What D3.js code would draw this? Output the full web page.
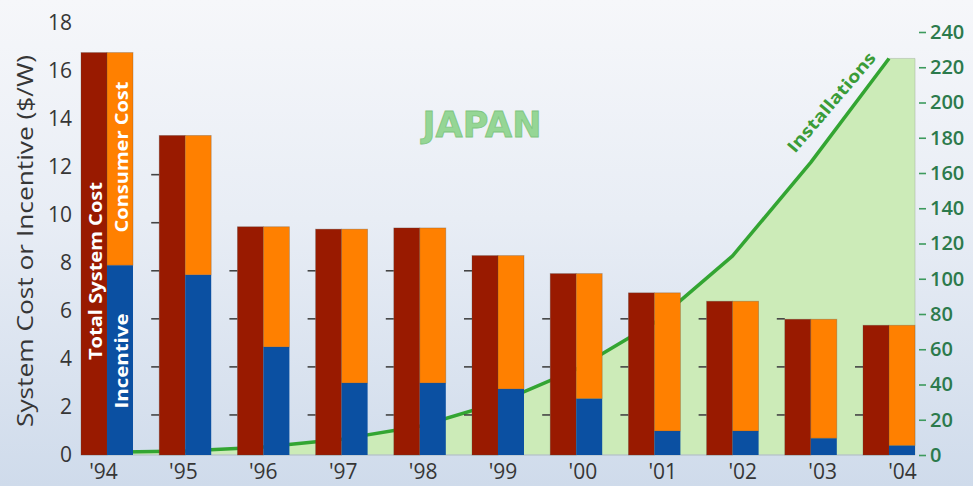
<!DOCTYPE html>
<html>
<head>
<meta charset="utf-8">
<script src="https://cdn.jsdelivr.net/npm/d3@7"></script>
<style>
  html, body { margin: 0; padding: 0; background: #fff; }
  body { width: 973px; height: 486px; overflow: hidden; }
  svg { display: block; }
</style>
</head>
<body>
<svg id="chart" width="973" height="486"></svg>
<script>
// Japan PV: system cost vs. incentive ($/W) and yearly installations (MW)
const years = ["'94", "'95", "'96", "'97", "'98", "'99", "'00", "'01", "'02", "'03", "'04"];
const totalCost    = [16.75, 13.3, 9.5, 9.4, 9.45, 8.3, 7.55, 6.75, 6.4, 5.65, 5.4];
const incentive    = [7.9, 7.5, 4.5, 3.0, 3.0, 2.75, 2.35, 1.0, 1.0, 0.7, 0.4];
const consumerCost = [8.85, 5.8, 5.0, 6.4, 6.45, 5.55, 5.2, 5.75, 5.4, 4.95, 5.0];
const installations = [1.5, 2.3, 4.5, 9, 16.3, 29.6, 48.6, 75, 113, 166, 225];
const costTicks = [0, 2, 4, 6, 8, 10, 12, 14, 16, 18];
const installTicks = [0, 20, 40, 60, 80, 100, 120, 140, 160, 180, 200, 220, 240];
const gapTickValues = [2, 4, 6, 8, 10, 12, 14, 16];

const W = 973, H = 486;
const svg = d3.select("#chart");

// background gradient
const defs = svg.append("defs");
const grad = defs.append("linearGradient").attr("id", "bg")
  .attr("x1", 0).attr("y1", 0).attr("x2", 0).attr("y2", 1);
grad.append("stop").attr("offset", "0%").attr("stop-color", "#f6f7fa");
grad.append("stop").attr("offset", "45%").attr("stop-color", "#e8edf5");
grad.append("stop").attr("offset", "100%").attr("stop-color", "#cfdbeb");
svg.append("rect").attr("width", W).attr("height", H).attr("fill", "url(#bg)");

// scales
const x = d3.scaleBand().domain(years).range([81, 915]).paddingInner(0.335).paddingOuter(0);
const xLabel = d3.scalePoint().domain(years).range([103, 902]);
const yCost = d3.scaleLinear().domain([0, 18]).range([455, 22.5]);
const yInst = d3.scaleLinear().domain([0, 240]).range([455, 32]);
const half = x.bandwidth() / 2;
const cx = d => x(d) + half;

// installations area + line
const areaPts = years.map((y, i) => [cx(y), installations[i]]);
areaPts.push([x(years[years.length - 1]) + x.bandwidth(), installations[installations.length - 1]]);
const area = d3.area().x(d => d[0]).y0(yInst(0)).y1(d => yInst(d[1]));
svg.append("path").datum(areaPts)
  .attr("d", area)
  .attr("fill", "#ccebb8")
  .attr("stroke", "#a9b9a6")
  .attr("stroke-width", 0.8)
  .attr("stroke-opacity", 0.7);

const line = d3.line().x((d, i) => cx(years[i])).y(d => yInst(d));
svg.append("path").datum(installations)
  .attr("d", line)
  .attr("fill", "none")
  .attr("stroke", "#33a532")
  .attr("stroke-width", 3.5)
  .attr("stroke-linejoin", "round");

// light baseline
svg.append("line")
  .attr("x1", x.range()[0]).attr("x2", x.range()[1])
  .attr("y1", yCost(0)).attr("y2", yCost(0))
  .attr("stroke", "#b9c5d3").attr("stroke-width", 1);

// short cost ticks in the gaps left of each group
const gapTicks = [];
years.forEach((y, i) => {
  if (i === 0) return;
  gapTickValues.forEach(v => {
    const ty = yCost(v) + 8;
    if (ty >= yCost(totalCost[i]) - 1) gapTicks.push({ x: x(y), y: ty });
  });
});
svg.append("g").selectAll("line").data(gapTicks).join("line")
  .attr("x1", d => d.x - 8).attr("x2", d => d.x)
  .attr("y1", d => d.y).attr("y2", d => d.y)
  .attr("stroke", "#444").attr("stroke-width", 1.6);

// bars: total system cost (left), incentive + consumer cost stacked (right)
const bars = svg.append("g");
const edge = { stroke: "#5a4a40", op: 0.35, w: 0.8 };
bars.selectAll("rect.total").data(years).join("rect")
  .attr("class", "total")
  .attr("x", d => x(d)).attr("width", half)
  .attr("y", (d, i) => yCost(totalCost[i]))
  .attr("height", (d, i) => yCost(0) - yCost(totalCost[i]))
  .attr("fill", "#991a00")
  .attr("stroke", edge.stroke).attr("stroke-opacity", edge.op).attr("stroke-width", edge.w);
bars.selectAll("rect.incentive").data(years).join("rect")
  .attr("class", "incentive")
  .attr("x", d => x(d) + half).attr("width", half)
  .attr("y", (d, i) => yCost(incentive[i]))
  .attr("height", (d, i) => yCost(0) - yCost(incentive[i]))
  .attr("fill", "#0b50a2");
bars.selectAll("rect.consumer").data(years).join("rect")
  .attr("class", "consumer")
  .attr("x", d => x(d) + half).attr("width", half)
  .attr("y", (d, i) => yCost(incentive[i] + consumerCost[i]))
  .attr("height", (d, i) => yCost(incentive[i]) - yCost(incentive[i] + consumerCost[i]))
  .attr("fill", "#ff8000")
  .attr("stroke", edge.stroke).attr("stroke-opacity", edge.op).attr("stroke-width", edge.w);

// in-bar labels on the first group
const inBar = [
  { text: "Total System Cost", x: x(years[0]) + half / 2, y: 271, len: 178 },
  { text: "Consumer Cost", x: x(years[0]) + half * 1.5, y: 157, len: 151 },
  { text: "Incentive", x: x(years[0]) + half * 1.5, y: 361, len: 95 }
];
svg.append("g").selectAll("text").data(inBar).join("text")
  .attr("transform", d => `translate(${d.x + 1},${d.y}) rotate(-90)`)
  .attr("text-anchor", "middle")
  .attr("dominant-baseline", "central")
  .attr("font-family", "'Open Sans', sans-serif")
  .attr("font-weight", 700)
  .attr("font-size", 17)
  .attr("fill", "#ffffff")
  .attr("textLength", d => d.len)
  .attr("lengthAdjust", "spacingAndGlyphs")
  .text(d => d.text);

// title
svg.append("text")
  .attr("x", 482).attr("y", 137)
  .attr("text-anchor", "middle")
  .attr("font-family", "'DejaVu Sans', sans-serif")
  .attr("font-weight", 700)
  .attr("font-size", 35)
  .attr("fill", "#95d695")
  .attr("stroke", "#7fc57f")
  .attr("stroke-width", 0.8)
  .attr("textLength", 119)
  .attr("lengthAdjust", "spacingAndGlyphs")
  .text("JAPAN");

// line label
svg.append("text")
  .attr("transform", "translate(831,102) rotate(-49.5)")
  .attr("text-anchor", "middle")
  .attr("dominant-baseline", "central")
  .attr("font-family", "'Open Sans', sans-serif")
  .attr("font-weight", 700)
  .attr("font-size", 17)
  .attr("fill", "#3a9c38")
  .attr("textLength", 126)
  .attr("lengthAdjust", "spacingAndGlyphs")
  .text("Installations");

// left axis
const leftAxis = svg.append("g")
  .attr("transform", "translate(76,0)")
  .call(d3.axisLeft(yCost).tickValues(costTicks).tickSize(0).tickPadding(4));
leftAxis.select(".domain").remove();
leftAxis.selectAll("text")
  .attr("font-family", "'Open Sans', sans-serif")
  .attr("font-size", 21)
  .attr("fill", "#363636");

// right axis
const rightAxis = svg.append("g")
  .attr("transform", "translate(919,0)")
  .call(d3.axisRight(yInst).tickValues(installTicks).tickSize(7).tickPadding(4));
rightAxis.select(".domain").remove();
rightAxis.selectAll("line").attr("stroke", "#3d9a5d").attr("stroke-width", 1.6);
rightAxis.selectAll("text")
  .attr("font-family", "'Open Sans', sans-serif")
  .attr("font-weight", 600)
  .attr("font-size", 20)
  .attr("fill", "#2c7a4c");

// bottom axis
const bottomAxis = svg.append("g")
  .attr("transform", `translate(0,${yCost(0)})`)
  .call(d3.axisBottom(xLabel).tickSize(0).tickPadding(9));
bottomAxis.select(".domain").remove();
bottomAxis.selectAll("text")
  .attr("font-family", "'Open Sans', sans-serif")
  .attr("font-size", 21)
  .attr("fill", "#363636");

// left axis title
svg.append("text")
  .attr("transform", "translate(25,241) rotate(-90)")
  .attr("text-anchor", "middle")
  .attr("dominant-baseline", "central")
  .attr("font-family", "'Open Sans', sans-serif")
  .attr("font-size", 21)
  .attr("fill", "#363636")
  .attr("textLength", 372)
  .attr("lengthAdjust", "spacingAndGlyphs")
  .text("System Cost or Incentive ($/W)");
</script>
</body>
</html>
